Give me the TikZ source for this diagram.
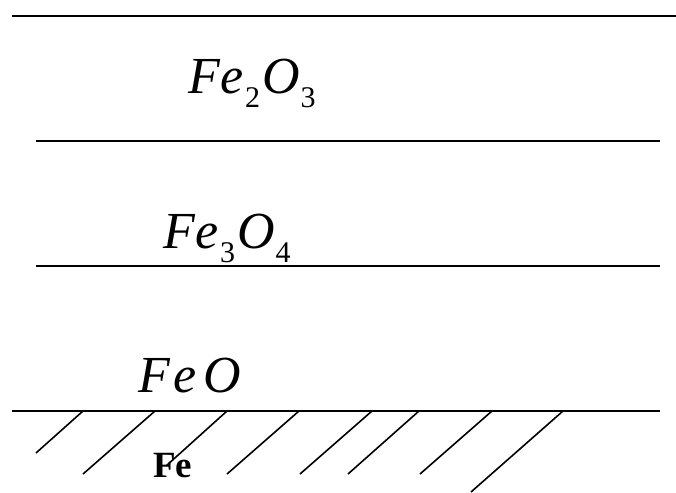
\documentclass[tikz,border=0pt]{standalone}
\usepackage{fontspec}
\setmainfont{Liberation Serif}
\usepackage{tikz}
\usetikzlibrary{positioning}
\newcommand{\chemsub}[1]{\kern1pt\raisebox{-14pt}{\fontsize{30}{30}\selectfont\upshape #1}\kern2pt}
\tikzset{
  layer/.style={line width=1.7pt},
  hatch/.style={line width=1.6pt},
  oxide/.style={anchor=base west, inner sep=0pt, font=\fontsize{52}{60}\selectfont\itshape},
  metal/.style={anchor=base west, inner sep=0pt, font=\fontsize{37}{40}\selectfont\bfseries},
}
\begin{document}
\begin{tikzpicture}[x=1pt,y=-1pt]
\useasboundingbox (0,0) rectangle (676,492);
% layer boundaries
\draw[layer] (12,16) -- (676,16);
\draw[layer] (36,141) -- (660,141);
\draw[layer] (36,266) -- (660,266);
\draw[layer] (12,411) -- (660,411);
% hatching of the metal
\draw[hatch] (83,411) -- (36,453);
\foreach \xt/\xb in {155/83, 299/227, 372/300, 419/348, 492/420}
  \draw[hatch] (\xt,411) -- (\xb,474);
\draw[hatch] (227,411) -- (166,466);
\draw[hatch] (563,411) -- (471,492);
% labels
\node[oxide] (hem) at (188,93) {F\kern1pt e\chemsub{2}O\chemsub{3}};
\node[oxide] (mag) at (163,248) {F\kern1pt e\chemsub{3}O\chemsub{4}};
\node[oxide] (wus) at (138,392) {F\kern4pt e\kern6pt O};
\node[metal] (iron) at (153,477) {Fe};
\end{tikzpicture}
\end{document}
